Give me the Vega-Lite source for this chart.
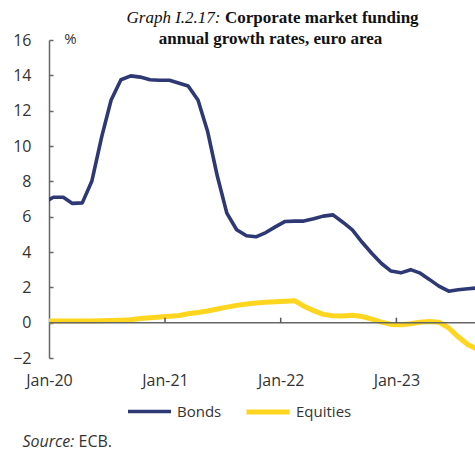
{
  "$schema": "https://vega.github.io/schema/vega-lite/v6.json",
  "width": 426,
  "height": 318,
  "autosize": {"type": "none"},
  "padding": {"left": 49, "top": 40, "right": 0, "bottom": 92},
  "config": {"view": {"stroke": null}, "font": "Open Sans", "axis": {"grid": false}},
  "datasets": {
    "series": [
      {"date": "2019-12-15", "series": "Bonds", "value": 6.8},
      {"date": "2020-01-15", "series": "Bonds", "value": 7.1},
      {"date": "2020-02-15", "series": "Bonds", "value": 7.1},
      {"date": "2020-03-15", "series": "Bonds", "value": 6.75},
      {"date": "2020-04-15", "series": "Bonds", "value": 6.78},
      {"date": "2020-05-15", "series": "Bonds", "value": 8.0},
      {"date": "2020-06-15", "series": "Bonds", "value": 10.5},
      {"date": "2020-07-15", "series": "Bonds", "value": 12.6},
      {"date": "2020-08-15", "series": "Bonds", "value": 13.75},
      {"date": "2020-09-15", "series": "Bonds", "value": 13.97},
      {"date": "2020-10-15", "series": "Bonds", "value": 13.9},
      {"date": "2020-11-15", "series": "Bonds", "value": 13.75},
      {"date": "2020-12-15", "series": "Bonds", "value": 13.72},
      {"date": "2021-01-15", "series": "Bonds", "value": 13.72},
      {"date": "2021-02-15", "series": "Bonds", "value": 13.55},
      {"date": "2021-03-15", "series": "Bonds", "value": 13.4},
      {"date": "2021-04-15", "series": "Bonds", "value": 12.6},
      {"date": "2021-05-15", "series": "Bonds", "value": 10.85},
      {"date": "2021-06-15", "series": "Bonds", "value": 8.3},
      {"date": "2021-07-15", "series": "Bonds", "value": 6.2},
      {"date": "2021-08-15", "series": "Bonds", "value": 5.26},
      {"date": "2021-09-15", "series": "Bonds", "value": 4.92},
      {"date": "2021-10-15", "series": "Bonds", "value": 4.86},
      {"date": "2021-11-15", "series": "Bonds", "value": 5.1},
      {"date": "2021-12-15", "series": "Bonds", "value": 5.42},
      {"date": "2022-01-15", "series": "Bonds", "value": 5.73},
      {"date": "2022-02-15", "series": "Bonds", "value": 5.75},
      {"date": "2022-03-15", "series": "Bonds", "value": 5.75},
      {"date": "2022-04-15", "series": "Bonds", "value": 5.88},
      {"date": "2022-05-15", "series": "Bonds", "value": 6.03},
      {"date": "2022-06-15", "series": "Bonds", "value": 6.1},
      {"date": "2022-07-15", "series": "Bonds", "value": 5.7},
      {"date": "2022-08-15", "series": "Bonds", "value": 5.25},
      {"date": "2022-09-15", "series": "Bonds", "value": 4.55},
      {"date": "2022-10-15", "series": "Bonds", "value": 3.93},
      {"date": "2022-11-15", "series": "Bonds", "value": 3.35},
      {"date": "2022-12-15", "series": "Bonds", "value": 2.92},
      {"date": "2023-01-15", "series": "Bonds", "value": 2.82},
      {"date": "2023-02-15", "series": "Bonds", "value": 3.0},
      {"date": "2023-03-15", "series": "Bonds", "value": 2.82},
      {"date": "2023-04-15", "series": "Bonds", "value": 2.45},
      {"date": "2023-05-15", "series": "Bonds", "value": 2.07},
      {"date": "2023-06-15", "series": "Bonds", "value": 1.78},
      {"date": "2023-07-15", "series": "Bonds", "value": 1.86},
      {"date": "2023-08-15", "series": "Bonds", "value": 1.92},
      {"date": "2023-09-15", "series": "Bonds", "value": 1.97},
      {"date": "2019-12-15", "series": "Equities", "value": 0.1},
      {"date": "2020-01-15", "series": "Equities", "value": 0.1},
      {"date": "2020-02-15", "series": "Equities", "value": 0.1},
      {"date": "2020-03-15", "series": "Equities", "value": 0.1},
      {"date": "2020-04-15", "series": "Equities", "value": 0.1},
      {"date": "2020-05-15", "series": "Equities", "value": 0.1},
      {"date": "2020-06-15", "series": "Equities", "value": 0.11},
      {"date": "2020-07-15", "series": "Equities", "value": 0.12},
      {"date": "2020-08-15", "series": "Equities", "value": 0.14},
      {"date": "2020-09-15", "series": "Equities", "value": 0.17},
      {"date": "2020-10-15", "series": "Equities", "value": 0.23},
      {"date": "2020-11-15", "series": "Equities", "value": 0.28},
      {"date": "2020-12-15", "series": "Equities", "value": 0.32},
      {"date": "2021-01-15", "series": "Equities", "value": 0.36},
      {"date": "2021-02-15", "series": "Equities", "value": 0.41},
      {"date": "2021-03-15", "series": "Equities", "value": 0.5},
      {"date": "2021-04-15", "series": "Equities", "value": 0.58},
      {"date": "2021-05-15", "series": "Equities", "value": 0.66},
      {"date": "2021-06-15", "series": "Equities", "value": 0.77},
      {"date": "2021-07-15", "series": "Equities", "value": 0.88},
      {"date": "2021-08-15", "series": "Equities", "value": 0.98},
      {"date": "2021-09-15", "series": "Equities", "value": 1.06},
      {"date": "2021-10-15", "series": "Equities", "value": 1.11},
      {"date": "2021-11-15", "series": "Equities", "value": 1.16},
      {"date": "2021-12-15", "series": "Equities", "value": 1.19},
      {"date": "2022-01-15", "series": "Equities", "value": 1.21},
      {"date": "2022-02-15", "series": "Equities", "value": 1.24},
      {"date": "2022-03-15", "series": "Equities", "value": 0.93},
      {"date": "2022-04-15", "series": "Equities", "value": 0.68},
      {"date": "2022-05-15", "series": "Equities", "value": 0.47},
      {"date": "2022-06-15", "series": "Equities", "value": 0.39},
      {"date": "2022-07-15", "series": "Equities", "value": 0.38},
      {"date": "2022-08-15", "series": "Equities", "value": 0.42},
      {"date": "2022-09-15", "series": "Equities", "value": 0.35},
      {"date": "2022-10-15", "series": "Equities", "value": 0.2},
      {"date": "2022-11-15", "series": "Equities", "value": 0.03},
      {"date": "2022-12-15", "series": "Equities", "value": -0.1},
      {"date": "2023-01-15", "series": "Equities", "value": -0.12},
      {"date": "2023-02-15", "series": "Equities", "value": -0.06},
      {"date": "2023-03-15", "series": "Equities", "value": 0.02},
      {"date": "2023-04-15", "series": "Equities", "value": 0.06},
      {"date": "2023-05-15", "series": "Equities", "value": 0.03},
      {"date": "2023-06-15", "series": "Equities", "value": -0.3},
      {"date": "2023-07-15", "series": "Equities", "value": -0.8},
      {"date": "2023-08-15", "series": "Equities", "value": -1.25},
      {"date": "2023-09-15", "series": "Equities", "value": -1.5}
    ],
    "ticks": [
      {"date": "2021-01-01"},
      {"date": "2022-01-01"},
      {"date": "2023-01-01"}
    ]
  },
  "resolve": {"axis": {"x": "independent", "y": "independent"}},
  "layer": [
    {
      "data": {"name": "series"},
      "mark": {"type": "line", "clip": true, "strokeJoin": "round"},
      "encoding": {
        "x": {
          "field": "date",
          "type": "temporal",
          "scale": {
            "type": "utc",
            "domain": [
              {"year": 2020, "month": 1, "date": 1, "utc": true},
              {"year": 2023, "month": 9, "date": 6, "utc": true}
            ]
          },
          "axis": {
            "orient": "bottom",
            "values": [
              {"year": 2020, "month": 1, "date": 1, "utc": true},
              {"year": 2021, "month": 1, "date": 1, "utc": true},
              {"year": 2022, "month": 1, "date": 1, "utc": true},
              {"year": 2023, "month": 1, "date": 1, "utc": true}
            ],
            "format": "%b-%y",
            "domain": false,
            "ticks": false,
            "labelFont": "Open Sans",
            "labelFontSize": 16,
            "labelColor": "#333333",
            "labelPadding": 27,
            "labelBaseline": "alphabetic",
            "labelAlign": "center",
            "labelDx": 3,
            "labelFlush": false,
            "labelOverlap": false,
            "title": "Source:",
            "titleFont": "Open Sans",
            "titleFontStyle": "italic",
            "titleFontWeight": "normal",
            "titleFontSize": 16,
            "titleColor": "#333333",
            "titleX": -27,
            "titleY": 88,
            "titleAlign": "left",
            "titleBaseline": "alphabetic"
          }
        },
        "y": {
          "field": "value",
          "type": "quantitative",
          "scale": {"domain": [-2, 16], "nice": false, "zero": false},
          "axis": {
            "orient": "left",
            "values": [-2, 0, 2, 4, 6, 8, 10, 12, 14, 16],
            "domainColor": "#666666",
            "domainWidth": 1.5,
            "tickColor": "#666666",
            "tickWidth": 1.5,
            "tickSize": -4,
            "labelFont": "Open Sans",
            "labelFontSize": 16,
            "labelColor": "#333333",
            "labelPadding": 22,
            "labelFlush": false,
            "labelOverlap": false,
            "title": "%",
            "titleFont": "Open Sans",
            "titleFontWeight": "normal",
            "titleFontSize": 15,
            "titleColor": "#333333",
            "titleAngle": 0,
            "titleX": 21,
            "titleY": 3,
            "titleAlign": "center",
            "titleBaseline": "alphabetic"
          }
        },
        "color": {
          "field": "series",
          "type": "nominal",
          "scale": {"domain": ["Bonds", "Equities"], "range": ["#2d3874", "#ffd61f"]},
          "legend": {
            "orient": "none",
            "legendX": 77,
            "legendY": 348,
            "direction": "horizontal",
            "gridAlign": "none",
            "title": null,
            "symbolType": "stroke",
            "symbolSize": 1849,
            "symbolStrokeWidth": 4.5,
            "labelFont": "Open Sans",
            "labelFontSize": 15,
            "labelColor": "#333333",
            "labelOffset": 4,
            "columnPadding": 14,
            "padding": 0
          }
        },
        "strokeWidth": {
          "field": "series",
          "type": "ordinal",
          "scale": {"domain": ["Bonds", "Equities"], "range": [3.6, 5]},
          "legend": null
        }
      }
    },
    {
      "data": {"values": [{}]},
      "mark": {"type": "rule", "color": "#666666", "strokeWidth": 1.5},
      "encoding": {
        "x": {
          "datum": {"year": 2020, "month": 1, "date": 1, "utc": true},
          "type": "temporal",
          "axis": {
            "orient": "top",
            "domain": false,
            "ticks": false,
            "labels": false,
            "title": "annual growth rates, euro area",
            "titleFont": "Liberation Serif",
            "titleFontWeight": "bold",
            "titleFontSize": 17,
            "titleColor": "#111111",
            "titleX": 221,
            "titleY": 3.3,
            "titleAlign": "center",
            "titleBaseline": "alphabetic"
          }
        },
        "x2": {"datum": {"year": 2023, "month": 9, "date": 6, "utc": true}},
        "y": {
          "datum": 0,
          "type": "quantitative",
          "axis": {
            "orient": "left",
            "domain": false,
            "ticks": false,
            "labels": false,
            "title": "ECB.",
            "titleFont": "Open Sans",
            "titleFontWeight": "normal",
            "titleFontSize": 16,
            "titleColor": "#333333",
            "titleAngle": 0,
            "titleX": 29,
            "titleY": 406,
            "titleAlign": "left",
            "titleBaseline": "alphabetic"
          }
        }
      }
    },
    {
      "data": {"name": "ticks"},
      "mark": {"type": "rule", "color": "#555555", "strokeWidth": 1.5},
      "encoding": {
        "x": {
          "field": "date",
          "type": "temporal",
          "axis": {
            "orient": "top",
            "domain": false,
            "ticks": false,
            "labels": false,
            "title": "Corporate market funding",
            "titleFont": "Liberation Serif",
            "titleFontWeight": "bold",
            "titleFontSize": 17,
            "titleColor": "#111111",
            "titleX": 175.5,
            "titleY": -17.3,
            "titleAlign": "left",
            "titleBaseline": "alphabetic"
          }
        },
        "y": {
          "datum": 0,
          "type": "quantitative",
          "axis": {
            "orient": "left",
            "domain": false,
            "ticks": false,
            "labels": false,
            "title": "Graph I.2.17:",
            "titleFont": "Liberation Serif",
            "titleFontStyle": "italic",
            "titleFontWeight": "normal",
            "titleFontSize": 17,
            "titleColor": "#111111",
            "titleAngle": 0,
            "titleX": 171,
            "titleY": -17.3,
            "titleAlign": "right",
            "titleBaseline": "alphabetic"
          }
        },
        "y2": {"datum": 0.28}
      }
    }
  ]
}
